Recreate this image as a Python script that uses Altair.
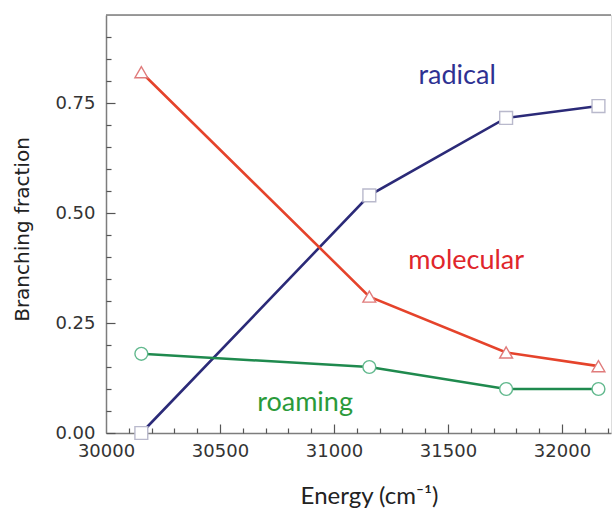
import altair as alt
import pandas as pd

# ---- data ----
energy = [30155, 31155, 31755, 32160]
radical = [0.0, 0.54, 0.716, 0.743]
molecular = [0.82, 0.31, 0.183, 0.152]
roaming = [0.18, 0.15, 0.10, 0.10]
series_names = ["radical", "molecular", "roaming"]

label_text = ["radical", "molecular", "roaming"]
label_x = [31540, 31580, 30873]
label_y = [0.812, 0.392, 0.068]

x_ticks = [30000, 30500, 31000, 31500, 32000]
y_ticks = [0.0, 0.25, 0.5, 0.75]
x_minor = [30000 + 100 * i for i in range(1, 23)]
y_minor = [round(0.05 * i, 2) for i in range(0, 19)]

line_colors = ["#2b2a78", "#e5432b", "#1f8a4e"]
marker_colors = ["#b9b9cc", "#e07b7b", "#62b98e"]
text_colors = ["#2e3192", "#e0262b", "#2a9a3a"]
shapes = ["square", "triangle-up", "circle"]

W, H = 505, 418

rows = []
for name, vals in zip(series_names, [radical, molecular, roaming]):
    for e, v in zip(energy, vals):
        rows.append({"energy": e, "value": v, "series": name})
df = pd.DataFrame(rows)
labels_df = pd.DataFrame({"energy": label_x, "value": label_y, "series": label_text})

xscale = alt.Scale(domain=[30000, 32215], nice=False, zero=False)
yscale = alt.Scale(domain=[0, 0.95], nice=False)

axis_gray = "#7d7d7d"
label_col = "#333333"

lines = alt.Chart(df).mark_line(strokeWidth=2.6).encode(
    x=alt.X("energy:Q", scale=xscale,
            axis=alt.Axis(orient="bottom", values=x_ticks, format="d", ticks=False, tickSize=0,
                          grid=False, domainColor=axis_gray, domainWidth=1.5,
                          labelFont="DejaVu Sans", labelFontSize=18, labelColor=label_col,
                          labelPadding=9, labelFlush=False,
                          title="Energy (cm⁻¹)", titleFont="Lato", titleFontSize=24,
                          titleFontWeight="normal", titleColor="#222222",
                          titleX=263, titleY=70, titleAlign="center", titleBaseline="alphabetic")),
    y=alt.Y("value:Q", scale=yscale,
            axis=alt.Axis(orient="left", values=y_ticks, format=".2f", ticks=False, tickSize=0,
                          grid=False, domainColor=axis_gray, domainWidth=1.5,
                          labelFont="DejaVu Sans", labelFontSize=18, labelColor=label_col,
                          labelPadding=11, labelFlush=False,
                          title="Branching fraction", titleFont="DejaVu Sans", titleFontSize=20,
                          titleFontWeight="normal", titleColor="#222222",
                          titleX=-84, titleY=214, titleAngle=-90, titleAlign="center",
                          titleBaseline="middle")),
    color=alt.Color("series:N", scale=alt.Scale(domain=series_names, range=line_colors), legend=None),
    detail="series:N",
)

points = alt.Chart(df).mark_point(filled=False, fill="white", fillOpacity=1, size=165, strokeWidth=1.4).encode(
    x=alt.X("energy:Q", scale=xscale,
            axis=alt.Axis(orient="top", offset=-H, values=x_minor, labels=False, domain=False,
                          grid=False, tickColor="#555555", tickWidth=1.2,
                          tickSize=alt.ExprRef("datum.value % 500 === 0 ? 9 : 5"), title=None)),
    y=alt.Y("value:Q", scale=yscale,
            axis=alt.Axis(orient="right", offset=-W, values=y_minor, labels=False, domain=False,
                          grid=False, tickColor="#555555", tickWidth=1.2,
                          tickSize=alt.ExprRef("abs(datum.value*4 - round(datum.value*4)) < 0.001 ? 9 : 5"),
                          title=None)),
    stroke=alt.Stroke("series:N", scale=alt.Scale(domain=series_names, range=marker_colors), legend=None),
    shape=alt.Shape("series:N", scale=alt.Scale(domain=series_names, range=shapes), legend=None),
)

texts = alt.Chart(labels_df).mark_text(font="Lato", fontSize=27, align="center", baseline="middle").encode(
    x=alt.X("energy:Q", scale=xscale, axis=None),
    y=alt.Y("value:Q", scale=yscale, axis=None),
    text="series:N",
    fill=alt.Fill("series:N", scale=alt.Scale(domain=series_names, range=text_colors), legend=None),
)

top_border = alt.Chart(pd.DataFrame({"a": [0]})).mark_rule(color=axis_gray, strokeWidth=1.5).encode(
    x=alt.value(0), x2=alt.value(W), y=alt.value(0)
)

chart = alt.layer(lines, points, texts, top_border).resolve_axis(
    x="independent", y="independent"
).properties(
    width=W, height=H,
    autosize=alt.AutoSizeParams(type="none"),
    padding={"left": 106, "top": 15, "right": 1, "bottom": 75},
).configure_view(stroke=None).configure(background="white")

chart.save("out.html", embed_options={"renderer": "svg", "actions": False})
